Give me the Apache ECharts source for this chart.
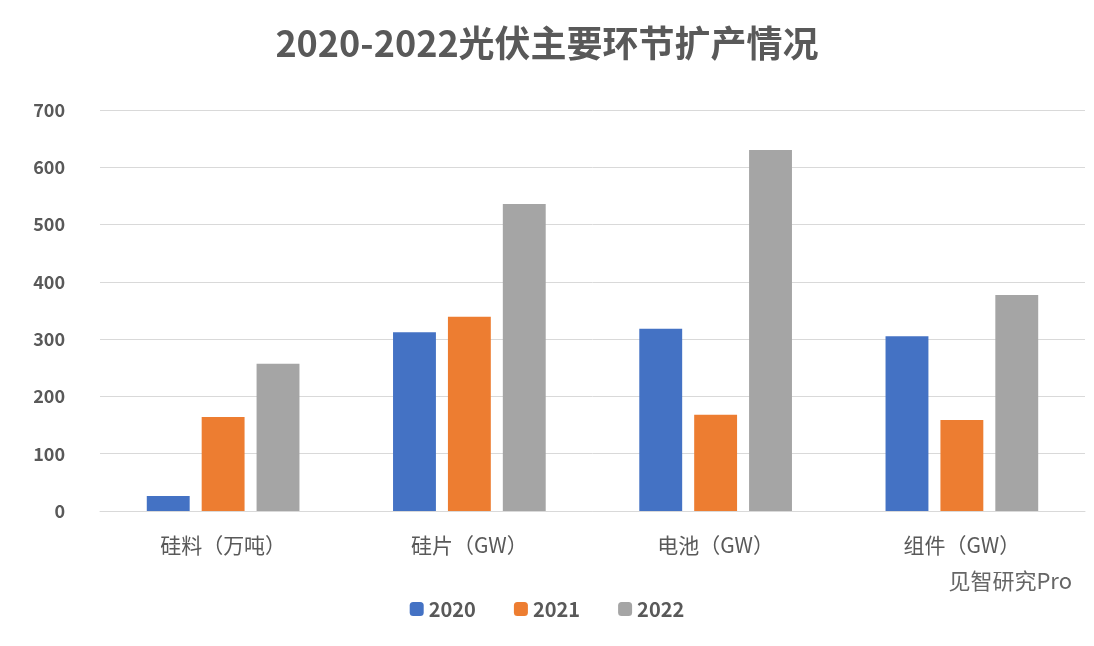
<!DOCTYPE html>
<html><head><meta charset="utf-8">
<script src="https://cdn.jsdelivr.net/npm/echarts@6/dist/echarts.min.js"></script>
<style>html,body{margin:0;padding:0;background:#fff}#c{width:1094px;height:646px}</style>
</head><body><div id="c"></div>
<script>
const categories = ['硅料（万吨）','硅片（GW）','电池（GW）','组件（GW）'];
const s2020 = [26, 312, 318, 305];
const s2021 = [164, 339, 168, 159];
const s2022 = [257, 536, 630, 377];
const font = '"Noto Sans CJK SC", "Noto Sans", sans-serif';
const chart = echarts.init(document.getElementById('c'));
chart.setOption({
  animation:false,
  textStyle:{fontFamily:font},
  title:{text:'2020-2022光伏主要环节扩产情况',left:'center',top:20,textStyle:{fontSize:36,fontWeight:'bold',color:'#595959',fontFamily:font}},
  graphic:[{type:'text',right:22,top:570,style:{text:'见智研究Pro',fontSize:22,fill:'#666',fontFamily:font}}],
  legend:{bottom:22,left:'center',itemWidth:14,itemHeight:14,itemGap:38,textStyle:{fontSize:20,fontWeight:'bold',color:'#595959'},data:['2020','2021','2022']},
  grid:{left:100,right:9,top:110,bottom:135},
  xAxis:{type:'category',data:categories,axisTick:{show:false},axisLine:{lineStyle:{color:'#d9d9d9'}},axisLabel:{fontSize:21,color:'#595959',margin:24}},
  yAxis:{type:'value',min:0,max:700,interval:100,axisLabel:{fontSize:18,color:'#595959',fontWeight:'bold',margin:35},splitLine:{lineStyle:{color:'#d9d9d9'}}},
  series:[
    {name:'2020',type:'bar',data:s2020,itemStyle:{color:'#4472c4'},barGap:'28%',barCategoryGap:'38%'},
    {name:'2021',type:'bar',data:s2021,itemStyle:{color:'#ed7d31'}},
    {name:'2022',type:'bar',data:s2022,itemStyle:{color:'#a5a5a5'}}
  ]
});
</script></body></html>
